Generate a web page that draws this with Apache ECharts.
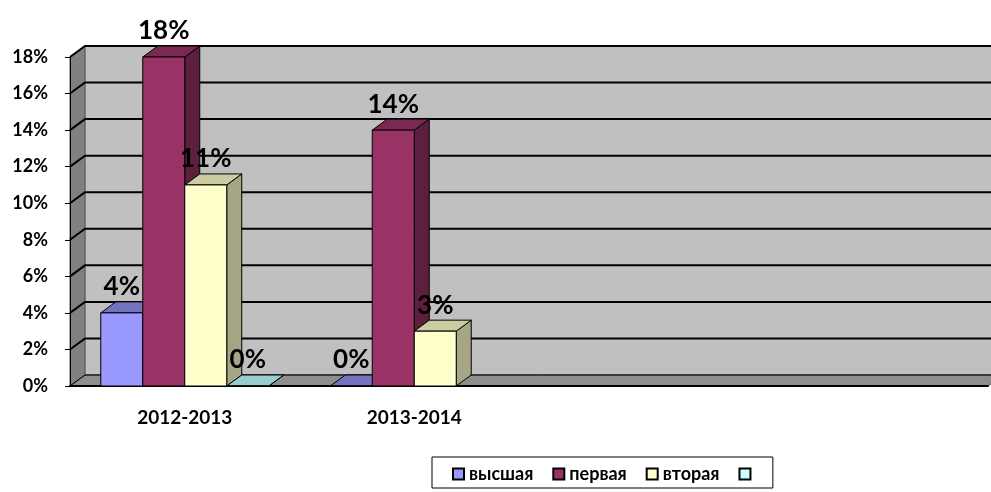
<!DOCTYPE html>
<html>
<head>
<meta charset="utf-8">
<script src="https://cdn.jsdelivr.net/npm/echarts@6/dist/echarts.min.js"></script>
<style>
  html, body { margin: 0; padding: 0; background: #fff; }
  #chart { width: 991px; height: 492px; }
</style>
</head>
<body>
<div id="chart"></div>
<script>
var categories = ['2012-2013', '2013-2014', '', ''];
var seriesNames = ['высшая', 'первая', 'вторая', ' '];
var vysshaya = [4, 0, null, null];
var pervaya = [18, 14, null, null];
var vtoraya = [11, 3, null, null];
var chetvertaya = [0, null, null, null];
var yTickValues = [0, 2, 4, 6, 8, 10, 12, 14, 16, 18];

// 3d look: depth offset of walls and bars
var DX = 15, DY = -11;
var BAR_FRAC = 0.183;

var faceColors = [
    {front: '#9999ff', top: '#7373bf', side: '#5c5c99'},
    {front: '#993366', top: '#7a2952', side: '#5c1f3d'},
    {front: '#ffffcc', top: '#cccca3', side: '#a6a687'},
    {front: '#ccffff', top: '#99cccc', side: '#7a9999'}
];

function toData(arr) {
    var out = [];
    arr.forEach(function (v, i) {
        if (v !== null) out.push([i, v]);
    });
    return out;
}

function renderWalls(params, api) {
    var cs = params.coordSys;
    var x0 = cs.x, x1 = cs.x + cs.width, yt = cs.y, yb = cs.y + cs.height;
    var kids = [];
    kids.push({type: 'rect', shape: {x: x0 + DX, y: yt + DY, width: cs.width, height: cs.height},
        style: {fill: '#c0c0c0', stroke: '#8a8a8a', lineWidth: 1}});
    kids.push({type: 'polygon', shape: {points: [[x0, yt], [x0 + DX, yt + DY], [x0 + DX, yb + DY], [x0, yb]]},
        style: {fill: '#808080', stroke: '#555', lineWidth: 1}});
    kids.push({type: 'polygon', shape: {points: [[x0, yb], [x0 + DX, yb + DY], [x1 + DX, yb + DY], [x1, yb]]},
        style: {fill: '#8e8e8e', stroke: '#555', lineWidth: 1}});
    yTickValues.forEach(function (v) {
        var y = api.coord([0, v])[1];
        kids.push({type: 'polyline', shape: {points: [[x0, y], [x0 + DX, y + DY], [x1 + DX, y + DY]]},
            style: {stroke: '#000', lineWidth: v === 0 ? 1 : 2, fill: null}});
    });
    return {type: 'group', children: kids};
}

function makeBarRenderer(idx) {
    var c = faceColors[idx];
    return function (params, api) {
        var cat = api.value(0), val = api.value(1);
        var band = api.size([1, 0])[0];
        var bw = band * BAR_FRAC;
        var base = api.coord([cat, 0]);
        var top = api.coord([cat, val]);
        var l = base[0] - 2 * bw + idx * bw, r = l + bw;
        var yb = base[1], yt = top[1];
        var edge = {stroke: '#000', lineWidth: 1};
        return {
            type: 'group',
            children: [
                {type: 'polygon', shape: {points: [[r, yt], [r + DX, yt + DY], [r + DX, yb + DY], [r, yb]]},
                    style: Object.assign({fill: c.side}, edge)},
                {type: 'polygon', shape: {points: [[l, yt], [l + DX, yt + DY], [r + DX, yt + DY], [r, yt]]},
                    style: Object.assign({fill: c.top}, edge)},
                {type: 'rect', shape: {x: l, y: yt, width: bw, height: yb - yt},
                    style: Object.assign({fill: c.front}, edge)},
                {type: 'text', x: (l + r) / 2, y: yt - 13,
                    style: {text: val + '%', fill: '#000', font: 'bold 26px Lato',
                        align: 'center', verticalAlign: 'bottom'}}
            ]
        };
    };
}

var chart = echarts.init(document.getElementById('chart'));
var values = [vysshaya, pervaya, vtoraya, chetvertaya];

var series = [{
    type: 'custom',
    name: 'walls',
    z: -1,
    silent: true,
    renderItem: renderWalls,
    data: [[0, 0]]
}];
values.forEach(function (arr, i) {
    series.push({
        type: 'custom',
        name: seriesNames[i],
        itemStyle: {color: faceColors[i].front, borderColor: '#000', borderWidth: 1.5},
        renderItem: makeBarRenderer(i),
        encode: {x: 0, y: 1},
        data: toData(arr)
    });
});

chart.setOption({
    animation: false,
    textStyle: {fontFamily: 'Lato'},
    grid: {left: 70, right: 3, top: 57, bottom: 106},
    legend: {
        data: seriesNames.map(function (n, i) {
            return {name: n, itemStyle: {color: faceColors[i].front, borderColor: '#000', borderWidth: 2}};
        }),
        left: 432,
        top: 457,
        backgroundColor: '#fff',
        borderColor: '#000',
        borderWidth: 1,
        padding: [8, 13, 5, 20],
        itemWidth: 11,
        itemHeight: 11,
        itemGap: 19,
        icon: 'rect',
        textStyle: {fontWeight: 'bold', fontSize: 18, color: '#000'}
    },
    xAxis: {
        type: 'category',
        data: categories,
        axisLine: {lineStyle: {color: '#000', width: 2}},
        axisTick: {length: 7, interval: 0, lineStyle: {color: '#000'}},
        axisLabel: {fontWeight: 'bold', fontSize: 19, color: '#000', margin: 22}
    },
    yAxis: {
        type: 'value',
        min: 0,
        max: 18,
        interval: 2,
        axisLine: {show: true, lineStyle: {color: '#000'}},
        axisTick: {show: true, length: 5, lineStyle: {color: '#000'}},
        axisLabel: {fontWeight: 'bold', fontSize: 18, color: '#000', margin: 22, formatter: '{value}%'},
        splitLine: {show: false}
    },
    series: series
});
</script>
</body>
</html>
